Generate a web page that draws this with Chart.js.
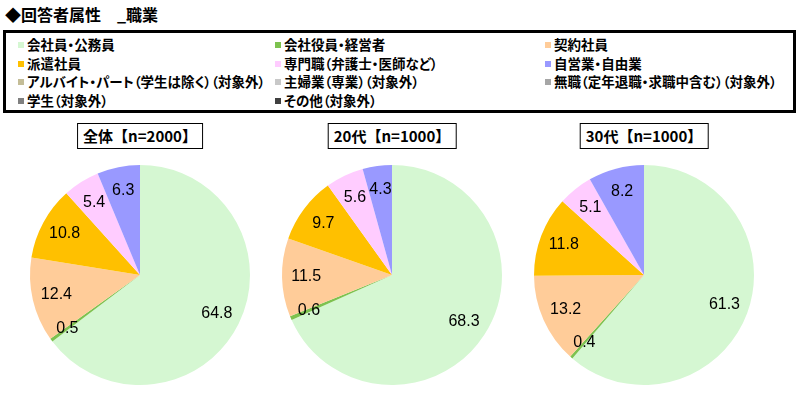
<!DOCTYPE html>
<html>
<head>
<meta charset="utf-8">
<script src="https://cdn.jsdelivr.net/npm/chart.js@4"></script>
<style>
  body { margin: 0; width: 800px; height: 393px; background: #fff; position: relative; overflow: hidden;
         font-family: "Noto Sans CJK JP", sans-serif; }
  #title { position: absolute; left: 5px; top: 3px; font-size: 16px; font-weight: bold; line-height: 22px; }
  #legend { position: absolute; left: 3px; top: 30px; width: 787px; height: 77px; border: 3px solid #000; }
  .item { position: absolute; font-size: 13.5px; font-weight: bold; line-height: 18px; white-space: nowrap;
          font-feature-settings: "palt"; }
  .item i { display: inline-block; width: 6px; height: 6px; margin-right: 3px; vertical-align: 2px; }
  .pie { position: absolute; top: 155px; width: 240px; height: 240px; }
  .ptitle { position: absolute; top: 123px; height: 24px; border: 1px solid #000; font-size: 15px; font-weight: bold;
            line-height: 24px; text-align: center; padding: 0 5px; transform: translateX(-50%); }
</style>
</head>
<body>
<div id="title">◆回答者属性　_職業</div>
<div id="legend"></div>

<script>
// categories (legend order, also slice order clockwise from top)
const categories = [
  '会社員・公務員', '会社役員・経営者', '契約社員',
  '派遣社員', '専門職（弁護士・医師など）', '自営業・自由業',
  'アルバイト・パート（学生は除く）（対象外）', '主婦業（専業）（対象外）', '無職（定年退職・求職中含む）（対象外）',
  '学生（対象外）', 'その他（対象外）'
];
const colors = ['#D5F7D2', '#7DC24F', '#FFCC99', '#FFC000', '#FFCCFF', '#9999FF',
                '#C4BD97', '#C8C8C8', '#A6A6A6', '#808080', '#404040'];

// pie titles and values (%)
const groups = ['全体【n=2000】', '20代【n=1000】', '30代【n=1000】'];
const allValues = [64.8, 0.5, 12.4, 10.8, 5.4, 6.3, 0, 0, 0, 0, 0];
const age20Values = [68.3, 0.6, 11.5, 9.7, 5.6, 4.3, 0, 0, 0, 0, 0];
const age30Values = [61.3, 0.4, 13.2, 11.8, 5.1, 8.2, 0, 0, 0, 0, 0];
const seriesList = [allValues, age20Values, age30Values];

// legend, 3 columns
const legend = document.getElementById('legend');
const colX = [12, 269, 539];
categories.forEach((c, i) => {
  const d = document.createElement('div');
  d.className = 'item';
  d.style.left = colX[i % 3] + 'px';
  d.style.top = (2 + Math.floor(i / 3) * 18.7) + 'px';
  d.innerHTML = `<i style="background:${colors[i]}"></i>${c}`;
  legend.appendChild(d);
});

// value labels inside slices
const sliceLabels = {
  id: 'sliceLabels',
  afterDatasetsDraw(chart) {
    const ctx = chart.ctx;
    const data = chart.data.datasets[0].data;
    ctx.save();
    ctx.font = '16px "Liberation Sans", Arial, sans-serif';
    ctx.fillStyle = '#000';
    ctx.textAlign = 'center';
    ctx.textBaseline = 'middle';
    chart.getDatasetMeta(0).data.forEach((arc, i) => {
      if (!data[i]) return;
      const p = arc.getProps(['x', 'y', 'startAngle', 'endAngle', 'outerRadius'], true);
      const a = (p.startAngle + p.endAngle) / 2;
      const r = p.outerRadius * (data[i] < 2 ? 0.82 : 0.78);
      ctx.fillText(data[i].toFixed(1), p.x + Math.cos(a) * r, p.y + Math.sin(a) * r);
    });
    ctx.restore();
  }
};

const centers = [140, 392, 644];
seriesList.forEach((vals, k) => {
  const t = document.createElement('div');
  t.className = 'ptitle';
  t.style.left = centers[k] + 'px';
  t.textContent = groups[k];
  document.body.appendChild(t);

  const wrap = document.createElement('div');
  wrap.className = 'pie';
  wrap.style.left = (centers[k] - 120) + 'px';
  const cv = document.createElement('canvas');
  wrap.appendChild(cv);
  document.body.appendChild(wrap);

  new Chart(cv, {
    type: 'pie',
    data: {
      labels: categories,
      datasets: [{ data: vals, backgroundColor: colors, borderWidth: 0 }]
    },
    options: {
      responsive: true,
      maintainAspectRatio: false,
      animation: false,
      layout: { padding: 10 },
      plugins: { legend: { display: false }, tooltip: { enabled: false } }
    },
    plugins: [sliceLabels]
  });
});
</script>
</body>
</html>
